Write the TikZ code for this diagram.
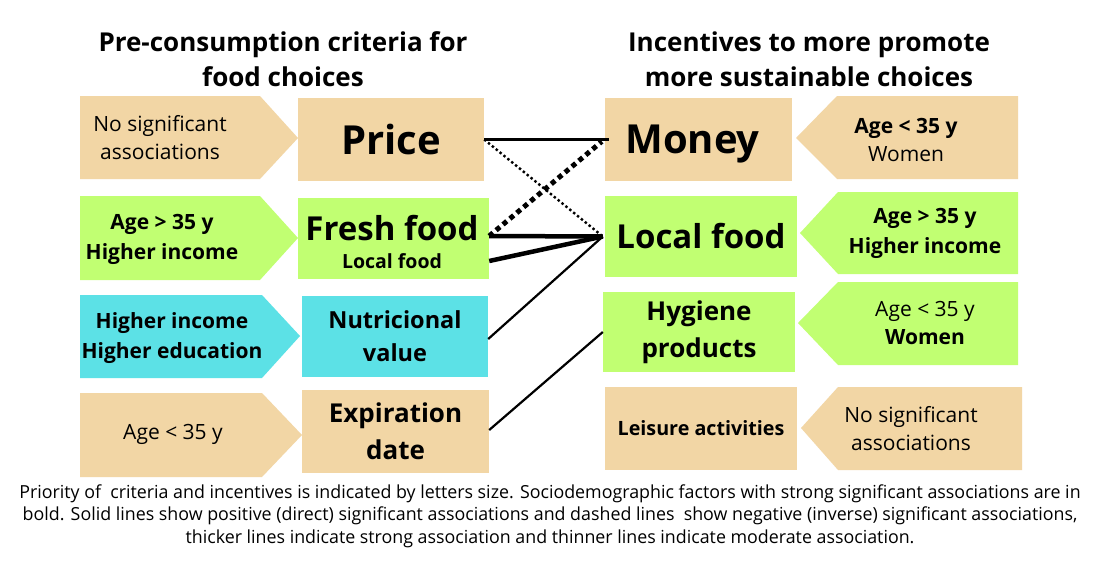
\documentclass[tikz,border=0pt]{standalone}
\usepackage{fontspec}
\setmainfont{Open Sans}
\newfontfamily\capfont[FakeStretch=0.99]{Open Sans}
\definecolor{boxtan}{RGB}{242,214,165}
\definecolor{boxgreen}{RGB}{193,255,114}
\definecolor{boxcyan}{RGB}{92,225,230}
\tikzset{
  box/.style={inner sep=0pt, align=center, text=black},
  side/.style={inner sep=0pt, align=center, text=black, font=\fontsize{21}{28}\selectfont},
  sideb/.style={side, font=\fontsize{21}{30}\selectfont\bfseries},
  head/.style={inner sep=0pt, align=center, font=\fontsize{26}{35}\selectfont\bfseries},
  thinline/.style={line width=2.2pt, black},
  thickline/.style={line width=4.5pt, black},
  thindot/.style={line width=2.4pt, black, dash pattern=on 2.4pt off 2.6pt},
  thickdot/.style={line width=5pt, black, dash pattern=on 5pt off 4pt}
}
\begin{document}
\begin{tikzpicture}[x=1pt,y=-1pt]
\useasboundingbox (0,0) rectangle (1102,562);
\fill[white] (0,0) rectangle (1102,562);

% headings
\node[head] (hleft) at (283,59) {Pre-consumption criteria for\\food choices};
\node[head] (hright) at (809,59) {Incentives to more promote\\more sustainable choices};

% left arrow shapes
\fill[boxtan]   (80,96)  -- (260,96)  -- (298,138) -- (260,179) -- (80,179) -- cycle;
\fill[boxgreen] (80,196) -- (260,196) -- (298,238) -- (260,280) -- (80,280) -- cycle;
\fill[boxcyan]  (80,295) -- (262,295) -- (300,336) -- (262,378) -- (80,378) -- cycle;
\fill[boxtan]   (80,393) -- (262,393) -- (302,435) -- (262,477) -- (80,477) -- cycle;

% right arrow shapes
\fill[boxtan]   (1018,96)  -- (837,96)  -- (796,138) -- (837,179) -- (1018,179) -- cycle;
\fill[boxgreen] (1018,192) -- (838,192) -- (800,233) -- (838,274) -- (1018,274) -- cycle;
\fill[boxgreen] (1018,282) -- (838,282) -- (798,323) -- (838,365) -- (1018,365) -- cycle;
\fill[boxtan]   (1022,387) -- (838,387) -- (801,428) -- (838,470) -- (1022,470) -- cycle;

% left side texts
\node[side] (l1) at (160,138) {No significant\\associations};
\node[sideb] (l2) at (162,239) {Age > 35 y\\Higher income};
\node[sideb] (l3) at (172,338) {Higher income\\Higher education};
\node[side] (l4) at (173,434) {Age < 35 y};

% right side texts
\node[side] (r1) at (906,140) {\textbf{Age < 35 y}\\Women};
\node[sideb] (r2) at (925,233) {Age > 35 y\\Higher income};
\node[side] (r3) at (925,323) {Age < 35 y\\\textbf{Women}};
\node[side] (r4) at (911,429) {No significant\\associations};

% criteria boxes
\node[box, fill=boxtan, minimum width=186pt, minimum height=83pt, font=\fontsize{40}{44}\selectfont\bfseries] (price) at (391,139.5) {Price};
\node[box, fill=boxgreen, minimum width=191pt, minimum height=81pt] (fresh) at (393.5,238.5) {};
\node[box, font=\fontsize{33}{36}\selectfont\bfseries] (freshT) at (392,228) {Fresh food};
\node[box, font=\fontsize{19.5}{20}\selectfont\bfseries] (freshL) at (392,261) {Local food};
\node[box, fill=boxcyan, minimum width=186pt, minimum height=81pt, font=\fontsize{23.5}{33}\selectfont\bfseries] (nutri) at (395,336.5) {Nutricional\\value};
\node[box, fill=boxtan, minimum width=187pt, minimum height=83pt, font=\fontsize{26}{37}\selectfont\bfseries] (expir) at (395.5,431.5) {Expiration\\date};

% incentive boxes
\node[box, fill=boxtan, minimum width=187pt, minimum height=83pt, text depth=0pt, font=\fontsize{40}{44}\selectfont\bfseries] (money) at (698.5,139.5) {Money\hspace*{12pt}};
\node[box, fill=boxgreen, minimum width=192pt, minimum height=81pt, font=\fontsize{33}{36}\selectfont\bfseries] (localR) at (701,236.5) {Local food};
\node[box, fill=boxgreen, minimum width=192pt, minimum height=80pt, font=\fontsize{26}{37}\selectfont\bfseries] (hyg) at (699,332) {Hygiene\\products};
\node[box, fill=boxtan, minimum width=192pt, minimum height=83pt, font=\fontsize{19.7}{20}\selectfont\bfseries] (leis) at (701,428.5) {Leisure activities};

% connectors
\draw[thinline] (price.east) -- ([xshift=4pt]money.west);
\draw[thindot] (price.east) -- ([xshift=-2pt]localR.west);
\draw[thickdot] ([yshift=2.5pt]fresh.east) -- ([xshift=-3pt,yshift=-2pt]money.west);
\draw[thickline] ([yshift=2.5pt]fresh.east) -- ([xshift=-2pt]localR.west);
\draw[thickline] ([yshift=-22.5pt]fresh.east) -- ([xshift=-2pt]localR.west);
\draw[thinline] ([yshift=-2.5pt]nutri.east) -- ([xshift=-2pt]localR.west);
\draw[thinline] ([yshift=1.5pt]expir.east) -- (hyg.west);

% caption
\node[inner sep=0pt, align=center, font=\capfont\fontsize{18}{22.5}\selectfont] (caption) at (550,516)
 {Priority of \ criteria and incentives is indicated by letters size. Sociodemographic factors with strong significant associations are in\\
 bold. Solid lines show positive (direct) significant associations and dashed lines \ show negative (inverse) significant associations,\\
 thicker lines indicate strong association and thinner lines indicate moderate association.};
\end{tikzpicture}
\end{document}
